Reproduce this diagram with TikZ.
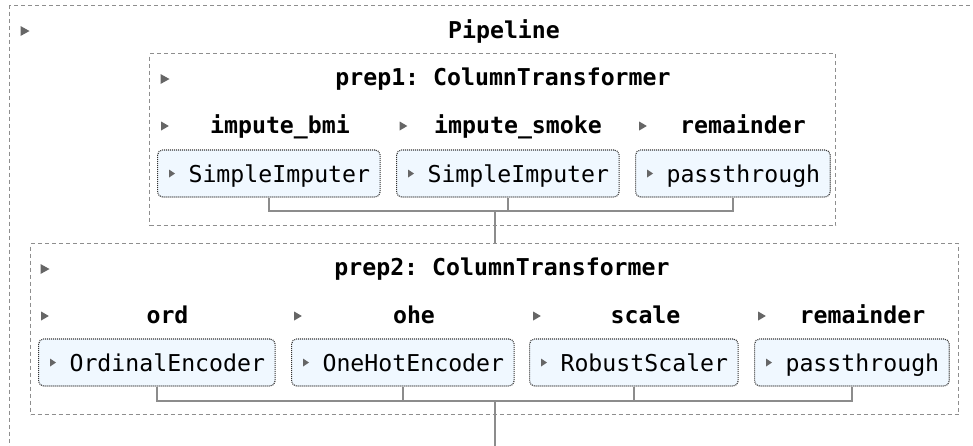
\documentclass[tikz,border=0pt]{standalone}
\usepackage{fontspec}
\setmonofont{DejaVu Sans Mono}
\definecolor{boxfill}{HTML}{F0F8FF}
\definecolor{tricol}{HTML}{666666}
\definecolor{wirecol}{HTML}{8C8C8C}
\definecolor{dashcol}{HTML}{8E8E8E}
\newcommand{\codefont}{\ttfamily\fontsize{23.2}{28}\selectfont}
\tikzset{
  container/.style={draw=dashcol, dash pattern=on 4pt off 3pt, line width=1.1pt,
    inner sep=0pt, anchor=north west},
  heading/.style={font=\codefont\bfseries, anchor=base, inner sep=0pt},
  estbox/.style={draw=black!80, dash pattern=on 1pt off 1pt, line width=1.1pt,
    rounded corners=5pt, fill=boxfill, font=\codefont, text height=20pt,
    text depth=3pt, minimum height=47pt, inner xsep=10pt, anchor=west},
  wire/.style={draw=wirecol, line width=1.6pt},
  bigtri/.pic={\fill[tricol] (-4.5,-5) -- (4.5,0) -- (-4.5,5) -- cycle;},
  midtri/.pic={\fill[tricol] (-3.8,-4.5) -- (3.8,0) -- (-3.8,4.5) -- cycle;},
  boxtri/.pic={\fill[tricol] (-3,-4) -- (3,0) -- (-3,4) -- cycle;},
}
\begin{document}
\begin{tikzpicture}[x=1pt, y=-1pt]
\useasboundingbox (0,0) rectangle (973,445);
\clip (0,0) rectangle (973,445);

% nested containers
\node[container, minimum width=1000pt, minimum height=500pt] (pipe) at (9,5) {};
\node[container, minimum width=686pt, minimum height=172pt] (p1) at (149,53) {};
\node[container, minimum width=928pt, minimum height=171pt] (p2) at (30,243) {};

% titles
\pic at (25,31) {bigtri};
\node[heading] (tpipe) at (504,38) {Pipeline};
\pic at (165,79) {bigtri};
\node[heading] (tp1) at (503,85) {prep1: ColumnTransformer};
\pic at (45,269) {bigtri};
\node[heading] (tp2) at (502,275) {prep2: ColumnTransformer};

% prep1 column labels
\pic at (165,126) {midtri};
\node[heading] (l11) at (280,133) {impute\_bmi};
\pic at (403.5,126) {midtri};
\node[heading] (l12) at (518,133) {impute\_smoke};
\pic at (643,126) {midtri};
\node[heading] (l13) at (743,133) {remainder};

% prep1 estimators
\node[estbox] (si1) at (157,173.5) {\hspace*{21pt}SimpleImputer};
\node[estbox] (si2) at (396,173.5) {\hspace*{21pt}SimpleImputer};
\node[estbox] (pt1) at (635,173.5) {\hspace*{21pt}passthrough};
\foreach \b in {si1,si2,pt1} \pic at ([xshift=15pt]\b.west) {boxtri};

% prep2 column labels
\pic at (45,316) {midtri};
\node[heading] (l21) at (167.5,323) {ord};
\pic at (298,316) {midtri};
\node[heading] (l22) at (414,323) {ohe};
\pic at (537,316) {midtri};
\node[heading] (l23) at (645.5,323) {scale};
\pic at (762,316) {midtri};
\node[heading] (l24) at (862.5,323) {remainder};

% prep2 estimators
\node[estbox] (oe) at (38,362.5) {\hspace*{21pt}OrdinalEncoder};
\node[estbox] (ohe) at (291,362.5) {\hspace*{21pt}OneHotEncoder};
\node[estbox] (rs) at (529,362.5) {\hspace*{21pt}RobustScaler};
\node[estbox] (pt2) at (754,362.5) {\hspace*{21pt}passthrough};
\foreach \b in {oe,ohe,rs,pt2} \pic at ([xshift=15pt]\b.west) {boxtri};

% connectors
\coordinate (j1) at (495,211);
\coordinate (j2) at (495,401);
\coordinate (tail) at (495,460);
\foreach \b in {si1,si2,pt1} \draw[wire] (\b.south) |- (j1);
\draw[wire] (j1) -- (j1 |- p2.north);
\foreach \b in {oe,ohe,rs,pt2} \draw[wire] (\b.south) |- (j2);
\draw[wire] (j2) -- (tail);
\end{tikzpicture}
\end{document}
